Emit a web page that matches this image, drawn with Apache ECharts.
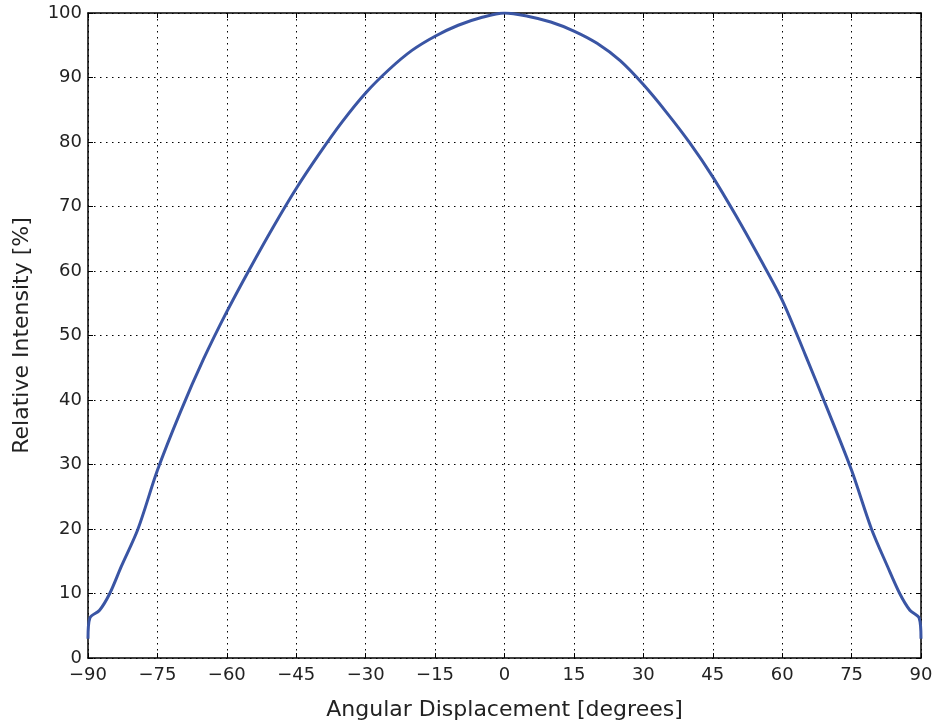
<!DOCTYPE html>
<html>
<head>
<meta charset="utf-8">
<script src="https://cdn.jsdelivr.net/npm/echarts@6/dist/echarts.min.js"></script>
<style>
html,body{margin:0;padding:0;background:#fff;}
#c{width:937px;height:728px;}
</style>
</head>
<body>
<div id="c"></div>
<script>
const angles = [-90, -89.6, -87.5, -85.3, -82.8, -79.2, -75, -70, -65, -60, -55, -50, -45, -40, -35, -30, -25, -20, -15, -10, -5, 0, 5, 10, 15, 20, 25, 30, 35, 40, 45, 50, 55, 60, 65, 70, 75, 79.3, 82.7, 85.4, 87.6, 89.6, 90];
const intensity = [3, 6.2, 7.4, 10, 14.2, 20, 29.1, 38.2, 46.4, 53.7, 60.4, 66.8, 72.8, 78.2, 83.2, 87.6, 91.2, 94.2, 96.4, 98.1, 99.3, 100, 99.5, 98.6, 97.2, 95.3, 92.6, 88.9, 84.6, 79.9, 74.6, 68.6, 62.2, 55.5, 47.0, 38.2, 29.1, 20, 14.3, 10, 7.4, 6.2, 3];
const xTicks = {min: -90, max: 90, interval: 15};
const yTicks = {min: 0, max: 100, interval: 10};

const chart = echarts.init(document.getElementById('c'), null, {renderer: 'canvas'});
const font = 'DejaVu Sans';
const minus = v => String(v).replace('-', '\u2212');
const baseX = {
  type: 'value', min: xTicks.min, max: xTicks.max, interval: xTicks.interval,
  axisLine: {show: true, onZero: false, lineStyle: {color: '#000', width: 1.5}},
  axisTick: {show: true, inside: true, length: 5, lineStyle: {color: '#000', width: 1}},
  splitLine: {show: false}
};
const baseY = {
  type: 'value', min: yTicks.min, max: yTicks.max, interval: yTicks.interval,
  axisLine: {show: true, onZero: false, lineStyle: {color: '#000', width: 1.5}},
  axisTick: {show: true, inside: true, length: 5, lineStyle: {color: '#000', width: 1}},
  splitLine: {show: false}
};
chart.setOption({
  animation: false,
  backgroundColor: '#fff',
  grid: {left: 88, right: 16, top: 13, bottom: 70, containLabel: false, outerBoundsMode: 'none'},
  xAxis: [
    Object.assign({}, baseX, {
      position: 'bottom',
      name: 'Angular Displacement [degrees]', nameLocation: 'middle', nameGap: 41,
      nameTextStyle: {fontFamily: font, fontSize: 22, color: '#222'},
      axisLabel: {fontFamily: font, fontSize: 18, color: '#222', margin: 8, formatter: minus},
      splitLine: {show: true, lineStyle: {color: '#000', type: [1.5, 4.5], width: 1}}
    }),
    Object.assign({}, baseX, {position: 'top', axisLabel: {show: false}})
  ],
  yAxis: [
    Object.assign({}, baseY, {
      position: 'left',
      name: 'Relative Intensity [%]', nameLocation: 'middle', nameGap: 55,
      nameTextStyle: {fontFamily: font, fontSize: 22, color: '#222'},
      axisLabel: {fontFamily: font, fontSize: 18, color: '#222', margin: 6},
      splitLine: {show: true, lineStyle: {color: '#000', type: [1.5, 4.5], width: 1}}
    }),
    Object.assign({}, baseY, {position: 'right', axisLabel: {show: false}})
  ],
  series: [{
    type: 'line',
    xAxisIndex: 0, yAxisIndex: 0,
    data: angles.map((a, i) => [a, intensity[i]]),
    smooth: 0.3,
    showSymbol: false,
    lineStyle: {color: '#3a55a4', width: 3},
    z: 5
  }]
});
</script>
</body>
</html>
